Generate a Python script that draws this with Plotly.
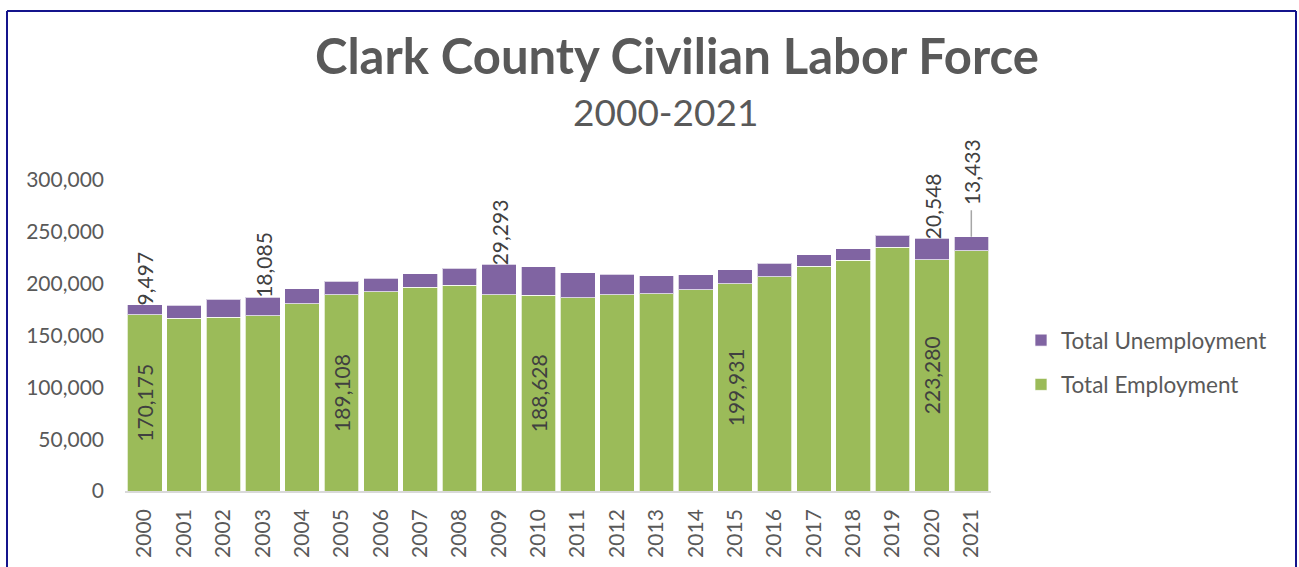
import plotly.graph_objects as go

# Clark County civilian labor force, 2000-2021
years = [str(y) for y in range(2000, 2022)]
employment = [170175, 166800, 167800, 169000, 180600, 189108, 192200, 196400,
              198700, 189300, 188628, 186400, 189300, 190300, 193900, 199931,
              206700, 216700, 222500, 235000, 223280, 231800]
unemployment = [9497, 12600, 17000, 18085, 14500, 13100, 13200, 13200,
                16100, 29293, 27500, 24200, 19700, 17400, 14500, 13600,
                13200, 11300, 11300, 11600, 20548, 13433]

# years whose values are written on the bars
employment_labeled = ["2000", "2005", "2010", "2015", "2020"]
unemployment_labeled = ["2000", "2003", "2009", "2020", "2021"]

W, H = 1299, 567
ML, MR, MT, MB = 125, 308, 180, 76
PW, PH = W - ML - MR, H - MT - MB

FONT = "Lato"
GREY = "#595959"
LABEL = "#404040"


def px_x(px):
    return (px - ML) / PW


def px_y(py):
    return (H - MB - py) / PH


emp_text = [f"{v:,}" if y in employment_labeled else "" for y, v in zip(years, employment)]

fig = go.Figure()
fig.add_trace(go.Bar(
    x=years, y=employment, name="Total Employment",
    legendgroup="employment", legendrank=2,
    marker=dict(color="#9bbb59", line=dict(color="rgba(255,255,255,0.7)", width=1)),
    text=emp_text, textposition="inside", insidetextanchor="middle",
    textangle=-90, textfont=dict(family=FONT, size=21, color=LABEL),
    hoverinfo="skip",
))
fig.add_trace(go.Bar(
    x=years, y=unemployment, name="Total Unemployment",
    legendgroup="unemployment", legendrank=1,
    marker=dict(color="#8064a2", line=dict(color="rgba(255,255,255,0.7)", width=1)),
    hoverinfo="skip",
))

annotations = []
for i, (y, e, u) in enumerate(zip(years, employment, unemployment)):
    if y not in unemployment_labeled:
        continue
    total = e + u
    if y == years[-1]:
        # label lifted above the bar with a leader line
        annotations.append(dict(
            x=i, y=total, xref="x", yref="y", text=f"{u:,}", textangle=-90,
            showarrow=True, arrowhead=0, arrowwidth=1.5, arrowcolor="#a6a6a6",
            ax=0, ay=-65, xanchor="center", yanchor="middle", borderpad=5,
            font=dict(family=FONT, size=21, color=LABEL),
        ))
    else:
        annotations.append(dict(
            x=i, y=total, xref="x", yref="y", text=f"{u:,}", textangle=-90,
            showarrow=False, yanchor="bottom", xanchor="center", yshift=-3,
            font=dict(family=FONT, size=21, color=LABEL),
        ))

# chart title and subtitle
annotations.append(dict(
    x=px_x(677), y=px_y(55), xref="paper", yref="paper",
    text="<b>Clark County Civilian Labor Force</b>", showarrow=False,
    xanchor="center", yanchor="middle",
    font=dict(family=FONT, size=49, color=GREY),
))
annotations.append(dict(
    x=px_x(665), y=px_y(111), xref="paper", yref="paper",
    text="2000-2021", showarrow=False, xanchor="center", yanchor="middle",
    font=dict(family=FONT, size=37, color=GREY),
))

# outer chart frame
frame = dict(color="#14148c", width=2)
shapes = [
    dict(type="line", xref="paper", yref="paper", x0=px_x(7), x1=px_x(7),
         y0=px_y(11), y1=px_y(H + 5), line=frame),
    dict(type="line", xref="paper", yref="paper", x0=px_x(1296), x1=px_x(1296),
         y0=px_y(11), y1=px_y(H + 5), line=frame),
    dict(type="line", xref="paper", yref="paper", x0=px_x(7), x1=px_x(1296),
         y0=px_y(11), y1=px_y(11), line=frame),
]

fig.update_layout(
    width=W, height=H,
    margin=dict(l=ML, r=MR, t=MT, b=MB, pad=0, autoexpand=False),
    barmode="stack", bargap=0.12,
    plot_bgcolor="white", paper_bgcolor="white",
    font=dict(family=FONT, size=21, color=GREY),
    showlegend=True,
    legend=dict(
        x=px_x(1021), y=px_y(319), xref="paper", yref="paper",
        xanchor="left", yanchor="top",
        traceorder="grouped", tracegroupgap=12,
        font=dict(family=FONT, size=22.5, color=GREY),
        bgcolor="rgba(0,0,0,0)",
    ),
    annotations=annotations,
    shapes=shapes,
    xaxis=dict(
        type="category", range=[-0.5, len(years) - 0.5], autorange=False,
        tickangle=-90, showgrid=False, zeroline=False, automargin=False,
        showline=True, linecolor="#d9d9d9", linewidth=1.5, ticks="",
        ticklabelstandoff=8, tickfont=dict(family=FONT, size=21, color=GREY),
        fixedrange=True,
    ),
    yaxis=dict(
        range=[0, 300000], tickvals=[0, 50000, 100000, 150000, 200000, 250000, 300000],
        tickformat=",d", showgrid=False, zeroline=False, showline=False,
        automargin=False,
        ticks="", ticklabelstandoff=20, tickfont=dict(family=FONT, size=21, color=GREY),
        fixedrange=True,
    ),
)

fig.write_html("out.html")
